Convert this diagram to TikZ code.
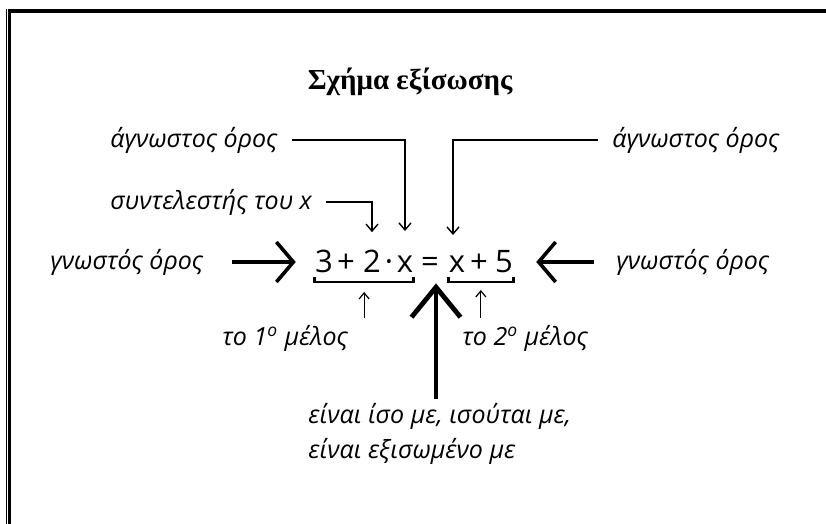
\documentclass[tikz,border=0pt]{standalone}
\usepackage{fontspec}
\setmainfont{Open Sans}
\newfontfamily\titlefont{Liberation Serif}
\usepackage{tikz}
\usetikzlibrary{arrows.meta}
\newcommand{\lblfont}{\fontsize{12.5}{17.5}\selectfont\itshape}
\newcommand{\eqfont}{\fontsize{15.5}{18}\selectfont}
\newcommand{\ttlfont}{\titlefont\bfseries\fontsize{14.5}{17}\selectfont}

\begin{document}
\begin{tikzpicture}[x=0.5pt,y=-0.5pt]
\tikzstyle{every node}=[inner sep=0pt]
\tikzstyle{lbl}=[font=\lblfont,anchor=west]
\tikzstyle{tok}=[font=\eqfont,anchor=base]
\tikzstyle{conn}=[line width=0.7pt,-{Straight Barb[length=3.5pt,width=6pt]}]
\tikzstyle{small}=[line width=0.6pt,-{Straight Barb[length=3pt,width=5pt]}]
\tikzstyle{bigto}=[line width=1.8pt,-{Straight Barb[length=8.5pt,width=20pt]}]
\tikzstyle{upto}=[line width=2.4pt,-{Straight Barb[length=15pt,width=24.5pt]}]
\tikzstyle{brk}=[line width=1.3pt]
\useasboundingbox (0,0) rectangle (826,524);
% frame
\draw[line width=0.6pt] (6.5,9) -- (6.5,524);
\draw[line width=1.5pt] (9.5,9) -- (9.5,524);
\fill (8,9) rectangle (826,13);
\node[font=\ttlfont] (ttl) at (410,82) {Σχήμα εξίσωσης};
% the equation
\node[tok] (n3) at (324,272) {3};
\node[tok] (pl1) at (346,272) {+};
\node[tok] (n2) at (372,272) {2};
\node[tok] (cd) at (389,272) {·};
\node[tok] (x1) at (405,272) {x};
\node[tok] (eq) at (430,272) {=};
\node[tok] (x2) at (457,272) {x};
\node[tok] (pl2) at (479,272) {+};
\node[tok] (n5) at (504,272) {5};
% labels
\node[lbl] (ua) at (110,140) {άγνωστος όρος};
\node[lbl] (sx) at (110,202) {συντελεστής του x};
\node[lbl] (gl) at (50,262) {γνωστός όρος};
\node[lbl] (ub) at (612,140) {άγνωστος όρος};
\node[lbl] (gr) at (616,262) {γνωστός όρος};
\node[lbl] (m1) at (222,338) {το 1\textsuperscript{ο} μέλος};
\node[lbl] (m2) at (462,338) {το 2\textsuperscript{ο} μέλος};
\node[lbl,anchor=north west,align=left] (is) at (308,403) {είναι ίσο με, ισούται με,\\είναι εξισωμένο με};
% connectors
\draw[conn,shorten <=7pt] (ua.east) -| ([yshift=12pt]x1.north);
\draw[conn,shorten <=7pt] (sx.east) -| ([yshift=8.5pt]n2.north);
\draw[conn,shorten <=7pt] (ub.west) -| ([xshift=-2pt,yshift=10pt]x2.north);
\draw[bigto,shorten <=14pt,shorten >=9.5pt] (gl.east) -- (gl.east -| n3.west);
\draw[bigto,shorten <=11pt,shorten >=11.5pt] (gr.west) -- (gr.west -| n5.east);
\draw[brk] ([yshift=-2.5pt]n3.base west) -- ([yshift=-5pt]n3.base west)
  -- node[coordinate,pos=.5] (b1) {} ([yshift=-5pt]x1.base east) -- ([yshift=-2.5pt]x1.base east);
\draw[brk] ([yshift=-2.5pt]x2.base west) -- ([yshift=-5pt]x2.base west)
  -- node[coordinate,pos=.5] (b2) {} ([yshift=-5pt]n5.base east) -- ([yshift=-2.5pt]n5.base east);
\draw[small] ([yshift=-18pt]b1) -- ([yshift=-5pt]b1);
\draw[small] ([yshift=-18pt]b2) -- ([yshift=-4pt]b2);
\draw[upto,shorten <=2pt,shorten >=5.5pt] ([xshift=3pt]is.north -| eq.south) -- ([xshift=3pt]eq.south);
\end{tikzpicture}
\end{document}
